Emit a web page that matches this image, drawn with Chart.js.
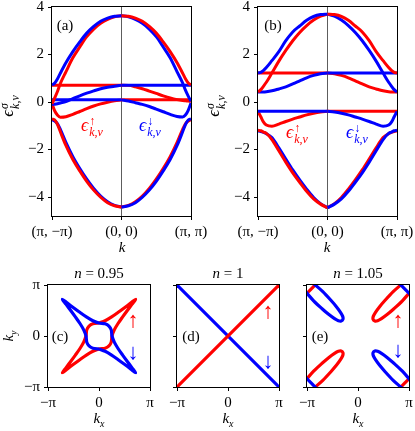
<!DOCTYPE html>
<html>
<head>
<meta charset="utf-8">
<title>Bands and Fermi surfaces</title>
<script src="https://cdn.jsdelivr.net/npm/chart.js"></script>
<style>
  body { margin: 0; background: #fff; }
  #fig { position: relative; width: 415px; height: 431px; overflow: hidden; background: #fff; }
  #fig canvas { position: absolute; }
  .t { position: absolute; transform: translate(-50%, -50%); white-space: nowrap;
       font-family: "Liberation Serif", "DejaVu Serif", serif; font-size: 15px; color: #000; line-height: 1; }
  .l { position: absolute; transform: translateY(-50%); white-space: nowrap;
       font-family: "Liberation Serif", "DejaVu Serif", serif; font-size: 18px; line-height: 1; }
  .rot { transform: translate(-50%, -50%) rotate(-90deg); }
  .i { font-style: italic; }
  .st { display: inline-flex; flex-direction: column; vertical-align: middle; font-size: 12px; line-height: 11px; margin-left: 1px; }
  .red { color: #ff0000; }
  .blue { color: #0000ff; }
  .arr { font-size: 22px; font-family: "Liberation Serif", serif; }
  sub { font-size: 10px; }
</style>
</head>
<body>
<div id="fig">
  <canvas id="pa" style="left:0;top:0" width="212" height="250"></canvas>
  <canvas id="pb" style="left:203px;top:0" width="212" height="250"></canvas>
  <canvas id="pc" style="left:0;top:268px" width="162" height="163"></canvas>
  <canvas id="pd" style="left:160px;top:268px" width="130" height="163"></canvas>
  <canvas id="pe" style="left:292px;top:268px" width="123" height="163"></canvas>

  <div class="t" style="left:65px;top:25px">(a)</div>
  <div class="t" style="left:273px;top:25px">(b)</div>
  <div class="t rot" style="left:10px;top:106px"><span class="i" style="font-size:17px">ϵ</span><span class="st"><span class="i">σ</span><span class="i">k,ν</span></span></div>
  <div class="t rot" style="left:216px;top:106px"><span class="i" style="font-size:17px">ϵ</span><span class="st"><span class="i">σ</span><span class="i">k,ν</span></span></div>
  <div class="t i" style="left:122px;top:247px">k</div>
  <div class="t i" style="left:327px;top:247px">k</div>

  <div class="l red" style="left:81px;top:127px"><span class="i">ϵ</span><span class="st"><span>↑</span><span class="i">k,ν</span></span></div>
  <div class="l blue" style="left:139px;top:127px"><span class="i">ϵ</span><span class="st"><span>↓</span><span class="i">k,ν</span></span></div>
  <div class="l red" style="left:286px;top:134px"><span class="i">ϵ</span><span class="st"><span>↑</span><span class="i">k,ν</span></span></div>
  <div class="l blue" style="left:346px;top:134px"><span class="i">ϵ</span><span class="st"><span>↓</span><span class="i">k,ν</span></span></div>

  <div class="t" style="left:99px;top:273px"><span class="i">n</span> = 0.95</div>
  <div class="t" style="left:228px;top:273px"><span class="i">n</span> = 1</div>
  <div class="t" style="left:358px;top:273px"><span class="i">n</span> = 1.05</div>
  <div class="t" style="left:99px;top:420px"><span class="i">k<sub>x</sub></span></div>
  <div class="t" style="left:228px;top:420px"><span class="i">k<sub>x</sub></span></div>
  <div class="t" style="left:358px;top:420px"><span class="i">k<sub>x</sub></span></div>
  <div class="t rot" style="left:10px;top:336px"><span class="i">k<sub>y</sub></span></div>
  <div class="t" style="left:60px;top:336px">(c)</div>
  <div class="t" style="left:191px;top:336px">(d)</div>
  <div class="t" style="left:320px;top:336px">(e)</div>
  <div class="t arr red" style="left:133px;top:320px">↑</div>
  <div class="t arr blue" style="left:133px;top:352px">↓</div>
  <div class="t arr red" style="left:268px;top:311px">↑</div>
  <div class="t arr blue" style="left:268px;top:361px">↓</div>
  <div class="t arr red" style="left:398px;top:320px">↑</div>
  <div class="t arr blue" style="left:398px;top:350px">↓</div>
</div>

<script>
// k along (pi,-pi) -> (0,0) -> (pi,pi), mapped to -1 .. 0 .. 1
const kLeft = [-1, -0.96, -0.92, -0.88, -0.8, -0.7, -0.6, -0.5, -0.4, -0.3, -0.2, -0.1, 0];
const kRight = [0, 0.1, 0.2, 0.3, 0.4, 0.5, 0.6, 0.7, 0.8, 0.88, 0.92, 0.96, 1];

const bandKTicks = [-1, 0, 1];
const bandKLabels = ['(π, −π)', '(0, 0)', '(π, π)'];
const energyTicks = [-4, -2, 0, 2, 4];
const fsTicks = [-1, 0, 1];
const fsLabels = ['−π', '0', 'π'];

// panel (a): bands [top, upper middle, lower middle, bottom]
const aUpLeft = [
  [-0.08, 0.18, 0.45, 0.78, 1.27, 1.86, 2.32, 2.75, 3.07, 3.31, 3.48, 3.59, 3.63],
  [0.71, 0.71, 0.71, 0.71, 0.71, 0.71, 0.71, 0.71, 0.71, 0.71, 0.71, 0.71, 0.71],
  [-0.08, -0.38, -0.56, -0.64, -0.62, -0.52, -0.4, -0.28, -0.17, -0.08, -0.01, 0.05, 0.09],
  [-0.71, -0.76, -0.95, -1.25, -1.83, -2.42, -2.9, -3.34, -3.71, -4.01, -4.24, -4.37, -4.42]
];
const aUpRight = [
  [3.63, 3.61, 3.53, 3.4, 3.18, 2.9, 2.53, 2.12, 1.65, 1.21, 0.98, 0.8, 0.72],
  [0.71, 0.7, 0.64, 0.56, 0.46, 0.36, 0.26, 0.17, 0.1, 0.06, 0.05, 0.04, 0.03],
  [0.09, 0.09, 0.09, 0.09, 0.09, 0.09, 0.09, 0.09, 0.09, 0.09, 0.09, 0.09, 0.09],
  [-4.42, -4.35, -4.2, -3.96, -3.64, -3.25, -2.8, -2.3, -1.7, -1.15, -0.92, -0.8, -0.74]
];
const aDnLeft = [
  [0.71, 0.8, 0.98, 1.21, 1.65, 2.12, 2.53, 2.9, 3.18, 3.4, 3.53, 3.61, 3.63],
  [-0.1, -0.09, -0.07, -0.04, 0.02, 0.14, 0.26, 0.37, 0.47, 0.56, 0.62, 0.66, 0.71],
  [0.09, 0.09, 0.09, 0.09, 0.09, 0.09, 0.09, 0.09, 0.09, 0.09, 0.09, 0.09, 0.09],
  [-0.74, -0.8, -0.92, -1.15, -1.7, -2.3, -2.8, -3.25, -3.64, -3.96, -4.2, -4.35, -4.42]
];
const aDnRight = [
  [3.63, 3.59, 3.48, 3.31, 3.07, 2.75, 2.32, 1.86, 1.27, 0.8, 0.5, 0.25, 0.03],
  [0.71, 0.71, 0.71, 0.71, 0.71, 0.71, 0.71, 0.71, 0.71, 0.71, 0.71, 0.71, 0.71],
  [0.09, 0.04, -0.03, -0.1, -0.19, -0.3, -0.41, -0.52, -0.61, -0.63, -0.55, -0.35, -0.04],
  [-4.42, -4.37, -4.24, -4.01, -3.71, -3.34, -2.9, -2.42, -1.83, -1.25, -0.95, -0.76, -0.71]
];

// panel (b)
const bUpLeft = [
  [0.42, 0.52, 0.67, 0.83, 1.22, 1.72, 2.17, 2.58, 2.93, 3.22, 3.45, 3.62, 3.7],
  [1.22, 1.22, 1.22, 1.22, 1.22, 1.22, 1.22, 1.22, 1.22, 1.22, 1.22, 1.22, 1.22],
  [-0.4, -0.62, -0.85, -0.97, -1.02, -0.93, -0.82, -0.72, -0.63, -0.54, -0.47, -0.42, -0.39],
  [-1.19, -1.21, -1.27, -1.32, -1.58, -2.05, -2.53, -2.98, -3.38, -3.76, -4.08, -4.3, -4.45]
];
const bUpRight = [
  [3.7, 3.68, 3.6, 3.44, 3.2, 2.95, 2.58, 2.12, 1.74, 1.45, 1.33, 1.25, 1.22],
  [1.22, 1.19, 1.12, 1.02, 0.89, 0.76, 0.64, 0.55, 0.47, 0.43, 0.42, 0.42, 0.42],
  [-0.39, -0.39, -0.39, -0.39, -0.39, -0.39, -0.39, -0.39, -0.39, -0.39, -0.39, -0.39, -0.39],
  [-4.45, -4.28, -4.02, -3.67, -3.28, -2.86, -2.4, -1.93, -1.5, -1.33, -1.28, -1.24, -1.22]
];
const bDnLeft = [
  [1.22, 1.25, 1.33, 1.45, 1.74, 2.12, 2.58, 2.95, 3.2, 3.44, 3.6, 3.68, 3.7],
  [0.42, 0.42, 0.42, 0.43, 0.47, 0.55, 0.64, 0.76, 0.89, 1.02, 1.12, 1.19, 1.22],
  [-0.39, -0.39, -0.39, -0.39, -0.39, -0.39, -0.39, -0.39, -0.39, -0.39, -0.39, -0.39, -0.39],
  [-1.22, -1.24, -1.28, -1.33, -1.5, -1.93, -2.4, -2.86, -3.28, -3.67, -4.02, -4.28, -4.45]
];
const bDnRight = [
  [3.7, 3.62, 3.45, 3.22, 2.93, 2.58, 2.17, 1.72, 1.22, 0.83, 0.67, 0.52, 0.42],
  [1.22, 1.22, 1.22, 1.22, 1.22, 1.22, 1.22, 1.22, 1.22, 1.22, 1.22, 1.22, 1.22],
  [-0.39, -0.42, -0.47, -0.54, -0.63, -0.72, -0.82, -0.93, -1.02, -0.97, -0.85, -0.62, -0.4],
  [-4.45, -4.3, -4.08, -3.76, -3.38, -2.98, -2.53, -2.05, -1.58, -1.32, -1.27, -1.21, -1.19]
];

// Fermi surfaces, (kx, ky) in units of pi
const cUp = [[0, 0.255], [-0.12, 0.24], [-0.195, 0.195], [-0.24, 0.12], [-0.255, 0], [-0.3, -0.12], [-0.37, -0.24],
  [-0.46, -0.37], [-0.555, -0.5], [-0.645, -0.62], [-0.72, -0.72], [-0.62, -0.645], [-0.5, -0.555], [-0.37, -0.46],
  [-0.24, -0.37], [-0.12, -0.3], [0, -0.255], [0.12, -0.24], [0.195, -0.195], [0.24, -0.12], [0.255, 0], [0.3, 0.12],
  [0.37, 0.24], [0.46, 0.37], [0.555, 0.5], [0.645, 0.62], [0.72, 0.72], [0.62, 0.645], [0.5, 0.555], [0.37, 0.46],
  [0.24, 0.37], [0.12, 0.3], [0, 0.255]];
const cDn = [[0, -0.255], [-0.12, -0.24], [-0.195, -0.195], [-0.24, -0.12], [-0.255, 0], [-0.3, 0.12], [-0.37, 0.24],
  [-0.46, 0.37], [-0.555, 0.5], [-0.645, 0.62], [-0.72, 0.72], [-0.62, 0.645], [-0.5, 0.555], [-0.37, 0.46],
  [-0.24, 0.37], [-0.12, 0.3], [0, 0.255], [0.12, 0.24], [0.195, 0.195], [0.24, 0.12], [0.255, 0], [0.3, -0.12],
  [0.37, -0.24], [0.46, -0.37], [0.555, -0.5], [0.645, -0.62], [0.72, -0.72], [0.62, -0.645], [0.5, -0.555], [0.37, -0.46],
  [0.24, -0.37], [0.12, -0.3], [0, -0.255]];

const dUp = [[-1, -1], [1, 1]];
const dDn = [[-1, 1], [1, -1]];

const eUpA = [[0.86, 1.02], [0.69, 0.87], [0.54, 0.71], [0.42, 0.57], [0.34, 0.46], [0.3, 0.385], [0.295, 0.33], [0.33, 0.295],
  [0.385, 0.3], [0.46, 0.34], [0.57, 0.42], [0.71, 0.54], [0.87, 0.69], [1.02, 0.86]];
const eUpB = [[-0.86, -1.02], [-0.69, -0.87], [-0.54, -0.71], [-0.42, -0.57], [-0.34, -0.46], [-0.3, -0.385], [-0.295, -0.33], [-0.33, -0.295],
  [-0.385, -0.3], [-0.46, -0.34], [-0.57, -0.42], [-0.71, -0.54], [-0.87, -0.69], [-1.02, -0.86]];
const eUpC = [[-0.82, 1.02], [-0.92, 0.92], [-1.02, 0.82]];
const eUpD = [[0.82, -1.02], [0.92, -0.92], [1.02, -0.82]];
const eDnA = [[-0.86, 1.02], [-0.69, 0.87], [-0.54, 0.71], [-0.42, 0.57], [-0.34, 0.46], [-0.3, 0.385], [-0.295, 0.33], [-0.33, 0.295],
  [-0.385, 0.3], [-0.46, 0.34], [-0.57, 0.42], [-0.71, 0.54], [-0.87, 0.69], [-1.02, 0.86]];
const eDnB = [[0.86, -1.02], [0.69, -0.87], [0.54, -0.71], [0.42, -0.57], [0.34, -0.46], [0.3, -0.385], [0.295, -0.33], [0.33, -0.295],
  [0.385, -0.3], [0.46, -0.34], [0.57, -0.42], [0.71, -0.54], [0.87, -0.69], [1.02, -0.86]];
const eDnC = [[0.82, 1.02], [0.92, 0.92], [1.02, 0.82]];
const eDnD = [[-0.82, -1.02], [-0.92, -0.92], [-1.02, -0.82]];

const RED = '#ff0000';
const BLUE = '#0000ff';
const tickFont = { family: '"Liberation Serif", "DejaVu Serif", serif', size: 15 };

Chart.defaults.animation = false;
Chart.defaults.font.family = tickFont.family;

// box around the axes, drawn over the curves like matplotlib spines
Chart.register({
  id: 'frame',
  afterDatasetsDraw(chart) {
    const a = chart.chartArea, c = chart.ctx;
    c.save();
    c.strokeStyle = '#000';
    c.lineWidth = 1;
    c.strokeRect(Math.round(a.left) - 0.5, Math.round(a.top) - 0.5,
                 Math.round(a.right - a.left) + 1, Math.round(a.bottom - a.top) + 1);
    c.restore();
  }
});

function seg(ks, ys, color) {
  return {
    data: ks.map((k, i) => ({ x: k, y: ys[i] })),
    borderColor: color, borderWidth: 3, showLine: true, pointRadius: 0,
    cubicInterpolationMode: 'monotone', clip: 0
  };
}

function loop(pts, color, tension) {
  return {
    data: pts.map(p => ({ x: p[0], y: p[1] })),
    borderColor: color, borderWidth: 3.2, showLine: true, pointRadius: 0,
    tension: tension, clip: 0
  };
}

function axis(ticks, labels, size, horizontal, showLabels, zeroLine) {
  return {
    type: 'linear',
    min: horizontal ? -1 : (ticks === energyTicks ? -4.8 : -1),
    max: horizontal ? 1 : (ticks === energyTicks ? 4 : 1),
    afterBuildTicks: s => { s.ticks = ticks.map(v => ({ value: v })); },
    afterFit: s => {
      if (horizontal) { s.height = size; s.paddingLeft = 0; s.paddingRight = 0; }
      else { s.width = size; s.paddingTop = 0; s.paddingBottom = 0; }
    },
    ticks: {
      display: showLabels,
      autoSkip: false, maxRotation: 0, padding: horizontal ? 3 : 4,
      color: '#000', font: tickFont,
      callback: (v, i) => labels[i]
    },
    grid: {
      drawOnChartArea: zeroLine,
      color: c => (zeroLine && c.tick && c.tick.value === 0) ? '#333' : 'rgba(0,0,0,0)',
      lineWidth: 0.8,
      tickColor: '#000', tickLength: 4, tickWidth: 1
    },
    border: { display: false }
  };
}

function baseOptions(scales, pad) {
  return {
    responsive: false,
    events: [],
    layout: { padding: pad },
    plugins: { legend: { display: false }, tooltip: { enabled: false } },
    scales: scales
  };
}

function bandChart(id, upL, upR, dnL, dnR, yWidth, padRight) {
  // listed from bottom to top, reversed because Chart.js paints the first dataset last
  const sets = [
    seg(kLeft, upL[1], RED), seg(kLeft, upL[2], RED), seg(kRight, upR[1], RED), seg(kRight, upR[2], RED),
    seg(kLeft, dnL[1], BLUE), seg(kLeft, dnL[2], BLUE), seg(kRight, dnR[1], BLUE), seg(kRight, dnR[2], BLUE),
    seg(kLeft, upL[0], RED), seg(kLeft, dnL[3], BLUE), seg(kLeft, dnL[0], BLUE), seg(kLeft, upL[3], RED),
    seg(kRight, dnR[0], BLUE), seg(kRight, upR[3], RED), seg(kRight, upR[0], RED), seg(kRight, dnR[3], BLUE)
  ].reverse();
  const yLabels = energyTicks.map(v => v < 0 ? '−' + Math.abs(v) : String(v));
  new Chart(document.getElementById(id), {
    type: 'scatter',
    data: { datasets: sets },
    options: baseOptions({
      x: axis(bandKTicks, bandKLabels, 34, true, true, true),
      y: axis(energyTicks, yLabels, yWidth, false, true, false)
    }, { left: 0, top: 7, right: padRight, bottom: 0 })
  });
}

function fsChart(id, sets, yWidth, padRight, yLabels) {
  new Chart(document.getElementById(id), {
    type: 'scatter',
    data: { datasets: sets.reverse() },
    options: baseOptions({
      x: axis(fsTicks, fsLabels, 44, true, true, false),
      y: axis(fsTicks, fsLabels, yWidth, false, yLabels, false)
    }, { left: 0, top: 17, right: padRight, bottom: 0 })
  });
}

bandChart('pa', aUpLeft, aUpRight, aDnLeft, aDnRight, 52, 21);
bandChart('pb', bUpLeft, bUpRight, bDnLeft, bDnRight, 55, 18);

fsChart('pc', [loop(cUp, RED, 0.3), loop(cDn, BLUE, 0.3)], 48, 12, true);
fsChart('pd', [loop(dDn, BLUE, 0), loop(dUp, RED, 0)], 17, 11, false);
fsChart('pe', [
  loop(eUpA, RED, 0.3), loop(eUpB, RED, 0.3), loop(eUpC, RED, 0), loop(eUpD, RED, 0),
  loop(eDnA, BLUE, 0.3), loop(eDnB, BLUE, 0.3), loop(eDnC, BLUE, 0), loop(eDnD, BLUE, 0)
], 15, 6, false);
</script>
</body>
</html>
